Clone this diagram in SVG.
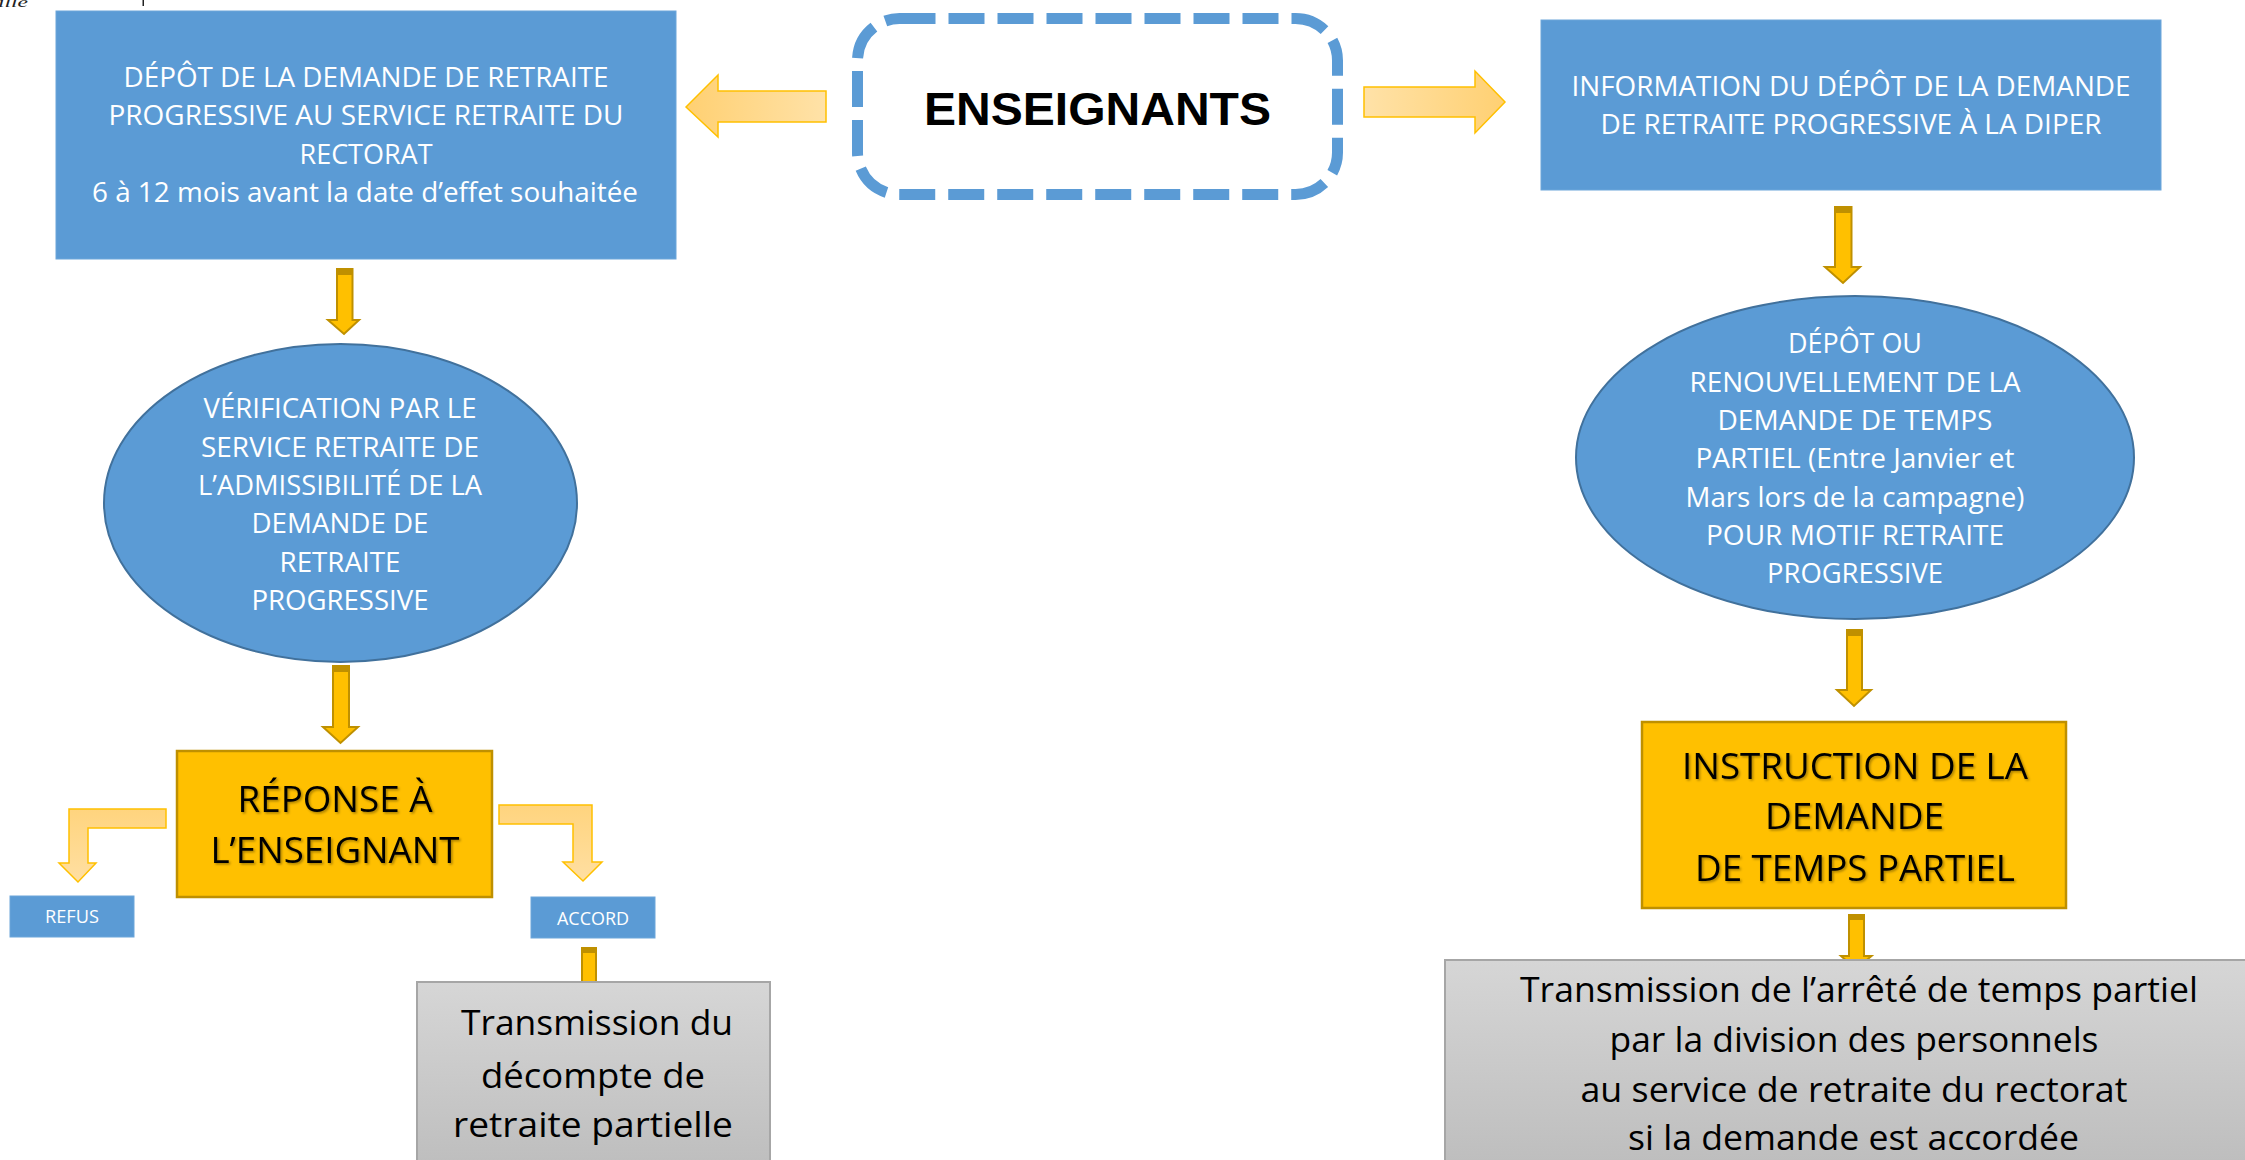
<svg xmlns="http://www.w3.org/2000/svg" width="2245" height="1160" viewBox="0 0 2245 1160">
<style>
.bl{fill:#5B9BD5;stroke:#6CA6DA;stroke-width:1}
.el{fill:#5B9BD5;stroke:#41719C;stroke-width:2}
.ye{fill:#FFC000;stroke:#BF9000;stroke-width:2.5}
.gr{fill:url(#gGray);stroke:#A6A6A6;stroke-width:2}
.wt{fill:#fff;font-family:"Open Sans","Liberation Sans",sans-serif;font-size:28px;text-anchor:middle}
.bk{fill:#000;font-family:"Open Sans","Liberation Sans",sans-serif;font-size:35px;text-anchor:middle}
.yt{fill:#000;font-family:"Open Sans","Liberation Sans",sans-serif;font-size:36px;text-anchor:middle;filter:url(#sh)}
.sm{fill:#fff;font-family:"Open Sans","Liberation Sans",sans-serif;font-size:18px;text-anchor:middle}
.da{fill:#FFC000;stroke:#BF9000;stroke-width:2}
.cap{fill:#BF9000}
.la{stroke:#FFC000;stroke-width:1.5}
</style>
<defs>
<linearGradient id="gGray" x1="0" y1="0" x2="0" y2="1">
<stop offset="0" stop-color="#D6D6D6"/>
<stop offset="1" stop-color="#BDBDBD"/>
</linearGradient>
<linearGradient id="gL" x1="0" y1="0" x2="1" y2="0">
<stop offset="0" stop-color="#FFD072"/>
<stop offset="1" stop-color="#FFE2A8"/>
</linearGradient>
<linearGradient id="gR" x1="0" y1="0" x2="1" y2="0">
<stop offset="0" stop-color="#FFE2A8"/>
<stop offset="1" stop-color="#FFD072"/>
</linearGradient>
<linearGradient id="gV" x1="0" y1="0" x2="0" y2="1">
<stop offset="0" stop-color="#FFD47E"/>
<stop offset="1" stop-color="#FFDFA2"/>
</linearGradient>
<filter id="sh" x="-10%" y="-20%" width="120%" height="140%">
<feDropShadow dx="1.5" dy="1.5" stdDeviation="1" flood-color="#000" flood-opacity="0.35"/>
</filter>
</defs>
<rect width="2245" height="1160" fill="#fff"/>

<g id="artifact">
<text x="-2" y="7" font-family="Liberation Serif,serif" font-style="italic" font-size="14" fill="#222" textLength="30" lengthAdjust="spacingAndGlyphs">ille</text>
<rect x="142.5" y="0" width="1.5" height="6" fill="#222"/>
</g>

<g id="connectors">
<path class="la" fill="url(#gL)" d="M686,107 L718,75 V91 H826 V122 H718 V137 Z"/>
<path class="la" fill="url(#gR)" d="M1505,102 L1475,71 V87 H1364 V117 H1475 V133 Z"/>
<path class="da" d="M337,269 H352.5 V320 H359 L344,334 L328,320 H337 Z"/><rect class="cap" x="337" y="269" width="15.5" height="6"/>
<path class="da" d="M333,666 H349 V727 H358 L340.5,743 L323,727 H333 Z"/><rect class="cap" x="333" y="666" width="16" height="6"/>
<path class="la" fill="url(#gV)" d="M166,809 H69 V863 H59 L78,882 L96,863 H88 V828 H166 Z"/>
<path class="la" fill="url(#gV)" d="M499,805 H592 V862 H602 L583,881 L563,862 H573 V824 H499 Z"/>
<path class="da" d="M582,948 H596 V987 H603.5 L589,1001 L574.5,987 H582 Z"/><rect class="cap" x="582" y="948" width="14" height="5"/>
<path class="da" d="M1835,207 H1851.5 V267 H1860 L1843,283 L1825,267 H1835 Z"/><rect class="cap" x="1835" y="207" width="16.5" height="6"/>
<path class="da" d="M1847,630 H1862 V690 H1871 L1854,706 L1837,690 H1847 Z"/><rect class="cap" x="1847" y="630" width="15" height="6"/>
<path class="da" d="M1849,915 H1864 V956 H1871.5 L1856,969 L1841,956 H1849 Z"/><rect class="cap" x="1849" y="915" width="15" height="5"/>
</g>

<g id="enseignants">
<rect x="857.5" y="18.5" width="480" height="176" rx="42" ry="42" fill="#fff" stroke="#5B9BD5" stroke-width="11" stroke-dasharray="36 13"/>
<text x="1097.5" y="125" font-family="Liberation Sans,Arial,sans-serif" font-weight="bold" font-size="47" text-anchor="middle" textLength="347" lengthAdjust="spacingAndGlyphs">ENSEIGNANTS</text>
</g>

<g id="depot">
<rect class="bl" x="56" y="11" width="620" height="248"/>
<text class="wt" font-size="29" x="366" y="87" textLength="485" lengthAdjust="spacingAndGlyphs">DÉPÔT DE LA DEMANDE DE RETRAITE</text>
<text class="wt" font-size="29" x="366" y="125" textLength="515" lengthAdjust="spacingAndGlyphs">PROGRESSIVE AU SERVICE RETRAITE DU</text>
<text class="wt" font-size="29" x="366" y="164" textLength="133" lengthAdjust="spacingAndGlyphs">RECTORAT</text>
<text class="wt" font-size="29" x="365" y="202" textLength="546" lengthAdjust="spacingAndGlyphs">6 à 12 mois avant la date d’effet souhaitée</text>
</g>

<g id="information">
<rect class="bl" x="1541" y="20" width="620" height="170"/>
<text class="wt" x="1851" y="96" textLength="559" lengthAdjust="spacingAndGlyphs">INFORMATION DU DÉPÔT DE LA DEMANDE</text>
<text class="wt" x="1851" y="134" textLength="501" lengthAdjust="spacingAndGlyphs">DE RETRAITE PROGRESSIVE À LA DIPER</text>
</g>

<g id="verification">
<ellipse class="el" cx="340.5" cy="503" rx="236.5" ry="159"/>
<text class="wt" x="340" y="418" textLength="273" lengthAdjust="spacingAndGlyphs">VÉRIFICATION PAR LE</text>
<text class="wt" x="340" y="457" textLength="278" lengthAdjust="spacingAndGlyphs">SERVICE RETRAITE DE</text>
<text class="wt" x="340" y="495" textLength="284" lengthAdjust="spacingAndGlyphs">L’ADMISSIBILITÉ DE LA</text>
<text class="wt" x="340" y="533" textLength="177" lengthAdjust="spacingAndGlyphs">DEMANDE DE</text>
<text class="wt" x="340" y="572" textLength="121" lengthAdjust="spacingAndGlyphs">RETRAITE</text>
<text class="wt" x="340" y="610" textLength="177" lengthAdjust="spacingAndGlyphs">PROGRESSIVE</text>
</g>

<g id="temps-partiel">
<ellipse class="el" cx="1855" cy="457.5" rx="279" ry="161.5"/>
<text class="wt" x="1855" y="353" textLength="134" lengthAdjust="spacingAndGlyphs">DÉPÔT OU</text>
<text class="wt" x="1855" y="392" textLength="331" lengthAdjust="spacingAndGlyphs">RENOUVELLEMENT DE LA</text>
<text class="wt" x="1855" y="430" textLength="275" lengthAdjust="spacingAndGlyphs">DEMANDE DE TEMPS</text>
<text class="wt" x="1855" y="468" textLength="319" lengthAdjust="spacingAndGlyphs">PARTIEL (Entre Janvier et</text>
<text class="wt" x="1855" y="507" textLength="339" lengthAdjust="spacingAndGlyphs">Mars lors de la campagne)</text>
<text class="wt" x="1855" y="545" textLength="298" lengthAdjust="spacingAndGlyphs">POUR MOTIF RETRAITE</text>
<text class="wt" x="1855" y="583" textLength="176" lengthAdjust="spacingAndGlyphs">PROGRESSIVE</text>
</g>

<g id="reponse">
<rect class="ye" x="177" y="751" width="315" height="146"/>
<text class="yt" x="335" y="812" textLength="195" lengthAdjust="spacingAndGlyphs">RÉPONSE À</text>
<text class="yt" x="335" y="863" textLength="249" lengthAdjust="spacingAndGlyphs">L’ENSEIGNANT</text>
</g>

<g id="refus">
<rect class="bl" x="10" y="896" width="124" height="41"/>
<text class="sm" x="72" y="923" textLength="54" lengthAdjust="spacingAndGlyphs">REFUS</text>
</g>

<g id="accord">
<rect class="bl" x="531" y="897" width="124" height="41"/>
<text class="sm" x="593" y="925" textLength="72" lengthAdjust="spacingAndGlyphs">ACCORD</text>
</g>

<g id="decompte">
<rect class="gr" x="417" y="982" width="353" height="190"/>
<text class="bk" x="597" y="1035" textLength="272" lengthAdjust="spacingAndGlyphs">Transmission du</text>
<text class="bk" x="593" y="1088" textLength="224" lengthAdjust="spacingAndGlyphs">décompte de</text>
<text class="bk" x="593" y="1137" textLength="280" lengthAdjust="spacingAndGlyphs">retraite partielle</text>
</g>

<g id="instruction">
<rect class="ye" x="1642" y="722" width="424" height="186"/>
<text class="yt" x="1855" y="779" textLength="346" lengthAdjust="spacingAndGlyphs">INSTRUCTION DE LA</text>
<text class="yt" x="1854.5" y="829" textLength="179" lengthAdjust="spacingAndGlyphs">DEMANDE</text>
<text class="yt" x="1855" y="881" textLength="320" lengthAdjust="spacingAndGlyphs">DE TEMPS PARTIEL</text>
</g>

<g id="arrete">
<rect class="gr" x="1445" y="960" width="820" height="210"/>
<text class="bk" x="1859" y="1002" textLength="678" lengthAdjust="spacingAndGlyphs">Transmission de l’arrêté de temps partiel</text>
<text class="bk" x="1854" y="1052" textLength="489" lengthAdjust="spacingAndGlyphs">par la division des personnels</text>
<text class="bk" x="1854" y="1102" textLength="547" lengthAdjust="spacingAndGlyphs">au service de retraite du rectorat</text>
<text class="bk" x="1853.5" y="1150" textLength="451" lengthAdjust="spacingAndGlyphs">si la demande est accordée</text>
</g>
</svg>
